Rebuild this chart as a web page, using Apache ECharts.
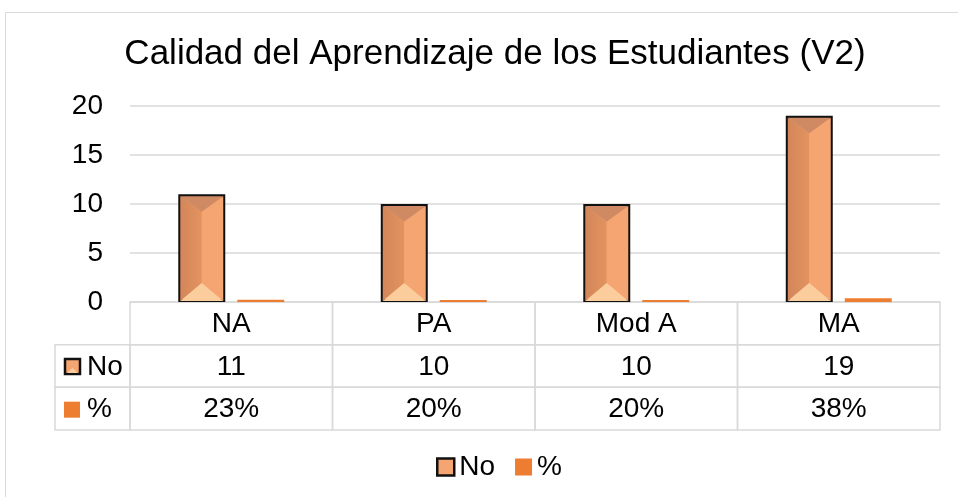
<!DOCTYPE html>
<html>
<head>
<meta charset="utf-8">
<script src="https://cdn.jsdelivr.net/npm/echarts@6/dist/echarts.min.js"></script>
<style>
  html, body { margin: 0; padding: 0; background: #fff; overflow: hidden; }
  #chart { width: 958px; height: 497px; }
</style>
</head>
<body>
<div id="chart"></div>
<script>
// ---- data ----
const categories = ['NA', 'PA', 'Mod A', 'MA'];
const countValues = [11, 10, 10, 19];          // "No" series
const pctValues = [0.23, 0.20, 0.20, 0.38];     // "%" series (fractions)
const yTicks = [0, 5, 10, 15, 20];
const seriesNames = ['No', '%'];
const tableRows = ['', 'No', '%'];

// ---- style ----
const FONT = 'Arial, "Liberation Sans", sans-serif';
const TEXT = '#000000';
const GRID_LINE = '#d9d9d9';
const ORANGE = '#ED7D31';
const BAR_FACE = '#F5A572';
const BAR_LEFT = '#E2935F';
const BAR_TOP = '#CF8A64';
const BAR_BOTTOM = '#FCCD9C';
const BAR_WIDTH_RATIO = 0.232;
const BAR_GAP_RATIO = 0.255;
const ROW_HEAD_W = 75;
const FS = 28;

const pctLabel = v => Math.round(v * 100) + '%';

// bevelled face for the "No" bars, laid over the bar series
function renderBevel(params, api) {
  const idx = api.value(0);
  const val = api.value(1);
  const base = api.coord([idx, 0]);
  const top = api.coord([idx, val]);
  const band = api.size([1, 0])[0];
  const bw = band * BAR_WIDTH_RATIO;
  const gap = bw * BAR_GAP_RATIO;
  const cx = base[0] - (bw + gap) / 2;
  const x0 = cx - bw / 2 + 2, x1 = cx + bw / 2 - 2;
  const y0 = top[1] + 2, y1 = base[1] - 1;
  const w = x1 - x0;
  const yTopApex = Math.min(y0 + w * 0.36, (y0 + y1) / 2);
  const yBotApex = Math.max(y1 - w * 0.42, (y0 + y1) / 2);
  const mid = (x0 + x1) / 2;
  return {
    type: 'group',
    children: [
      { type: 'polygon', shape: { points: [[x0, y0], [mid, yTopApex], [mid, yBotApex], [x0, y1]] },
        style: { fill: new echarts.graphic.LinearGradient(0, 0, 1, 0, [
          { offset: 0, color: '#D3865A' }, { offset: 1, color: BAR_LEFT }]) } },
      { type: 'polygon', shape: { points: [[x1, y0], [mid, yTopApex], [mid, yBotApex], [x1, y1]] },
        style: { fill: BAR_FACE } },
      { type: 'polygon', shape: { points: [[x0, y0], [x1, y0], [mid, yTopApex]] },
        style: { fill: BAR_TOP } },
      { type: 'polygon', shape: { points: [[x0, y1], [x1, y1], [mid, yBotApex]] },
        style: { fill: BAR_BOTTOM } }
    ]
  };
}

// data table under the plot: one cell per (category, row)
function renderTable(params, api) {
  const ci = api.value(0);
  const ri = api.value(1);
  const c = api.coord([ci, ri]);
  const sz = api.size([1, 1]);
  const w = sz[0], h = sz[1];
  const x = c[0] - w / 2, y = c[1] - h / 2;
  let label;
  if (ri === 0) label = categories[ci];
  else if (ri === 1) label = String(countValues[ci]);
  else label = pctLabel(pctValues[ci]);
  const children = [
    { type: 'rect', shape: { x: x, y: y, width: w, height: h },
      style: { fill: 'none', stroke: GRID_LINE, lineWidth: 1.5 } },
    { type: 'text', x: c[0], y: c[1] + 1,
      style: { text: label, fill: TEXT, font: FS + 'px ' + FONT, align: 'center', verticalAlign: 'middle' } }
  ];
  if (ci === 0 && ri > 0) {
    const hx = x - ROW_HEAD_W;
    children.push(
      { type: 'rect', shape: { x: hx, y: y, width: ROW_HEAD_W, height: h },
        style: { fill: 'none', stroke: GRID_LINE, lineWidth: 1.5 } },
      { type: 'text', x: hx + 32, y: c[1] + 1,
        style: { text: tableRows[ri], fill: TEXT, font: FS + 'px ' + FONT, align: 'left', verticalAlign: 'middle' } }
    );
    if (ri === 1) {
      children.push(
        { type: 'rect', shape: { x: hx + 10, y: c[1] - 7, width: 15, height: 15 },
          style: { fill: BAR_FACE, stroke: '#111', lineWidth: 2.5 } },
        { type: 'polygon', shape: { points: [[hx + 12, c[1] + 7], [hx + 23, c[1] + 7], [hx + 17.5, c[1] + 2]] },
          style: { fill: BAR_BOTTOM } }
      );
    } else {
      children.push(
        { type: 'rect', shape: { x: hx + 9, y: c[1] - 7, width: 16, height: 16 },
          style: { fill: ORANGE } }
      );
    }
  }
  return { type: 'group', children: children };
}

const tableData = [];
categories.forEach((_, ci) => tableRows.forEach((_, ri) => tableData.push([ci, ri])));

const chart = echarts.init(document.getElementById('chart'), null, { renderer: 'canvas' });

chart.setOption({
  backgroundColor: '#ffffff',
  animation: false,
  textStyle: { fontFamily: FONT },
  graphic: [{
    type: 'rect', silent: true, z: -10,
    shape: { x: 5.5, y: 12.5, width: 1000, height: 600 },
    style: { fill: '#fff', stroke: GRID_LINE, lineWidth: 1 }
  }],
  title: {
    text: 'Calidad del Aprendizaje de los Estudiantes (V2)',
    left: 490, top: 32, textAlign: 'center',
    textStyle: { fontFamily: FONT, fontSize: 35, fontWeight: 'normal', color: TEXT }
  },
  legend: {
    bottom: 11, left: 431,
    itemWidth: 17, itemHeight: 17, itemGap: 20,
    textStyle: { fontFamily: FONT, fontSize: FS, color: TEXT },
    data: [
      { name: seriesNames[0], icon: 'rect',
        itemStyle: { color: BAR_FACE, borderColor: '#111', borderWidth: 2.5 } },
      { name: seriesNames[1], icon: 'rect', itemStyle: { color: ORANGE, borderWidth: 0 } }
    ]
  },
  grid: [
    { left: 130, right: 18, top: 106, height: 196 },
    { left: 130, right: 18, top: 302, height: 128 }
  ],
  xAxis: [
    { type: 'category', gridIndex: 0, data: categories,
      axisLine: { show: false }, axisTick: { show: false }, axisLabel: { show: false } },
    { type: 'category', gridIndex: 1, data: categories, show: false }
  ],
  yAxis: [
    { type: 'value', gridIndex: 0, min: yTicks[0], max: yTicks[yTicks.length - 1], interval: yTicks[1] - yTicks[0],
      axisLine: { show: false }, axisTick: { show: false },
      axisLabel: { fontFamily: FONT, fontSize: FS, color: TEXT, margin: 27 },
      splitLine: { lineStyle: { color: GRID_LINE, width: 1.5 } } },
    { type: 'category', gridIndex: 1, data: tableRows, inverse: true, show: false }
  ],
  series: [
    { name: seriesNames[0], type: 'bar', xAxisIndex: 0, yAxisIndex: 0,
      data: countValues,
      barWidth: (BAR_WIDTH_RATIO * 100) + '%', barGap: (BAR_GAP_RATIO * 100) + '%',
      itemStyle: { color: BAR_FACE, borderColor: '#111', borderWidth: 3 } },
    { name: seriesNames[1], type: 'bar', xAxisIndex: 0, yAxisIndex: 0,
      data: pctValues,
      barWidth: (BAR_WIDTH_RATIO * 100) + '%',
      itemStyle: { color: ORANGE } },
    { name: 'bevel', type: 'custom', xAxisIndex: 0, yAxisIndex: 0, silent: true, z: 3,
      renderItem: renderBevel, data: countValues.map((v, i) => [i, v]), clip: false },
    { name: 'table', type: 'custom', xAxisIndex: 1, yAxisIndex: 1, silent: true,
      renderItem: renderTable, data: tableData, clip: false }
  ]
});
</script>
</body>
</html>
